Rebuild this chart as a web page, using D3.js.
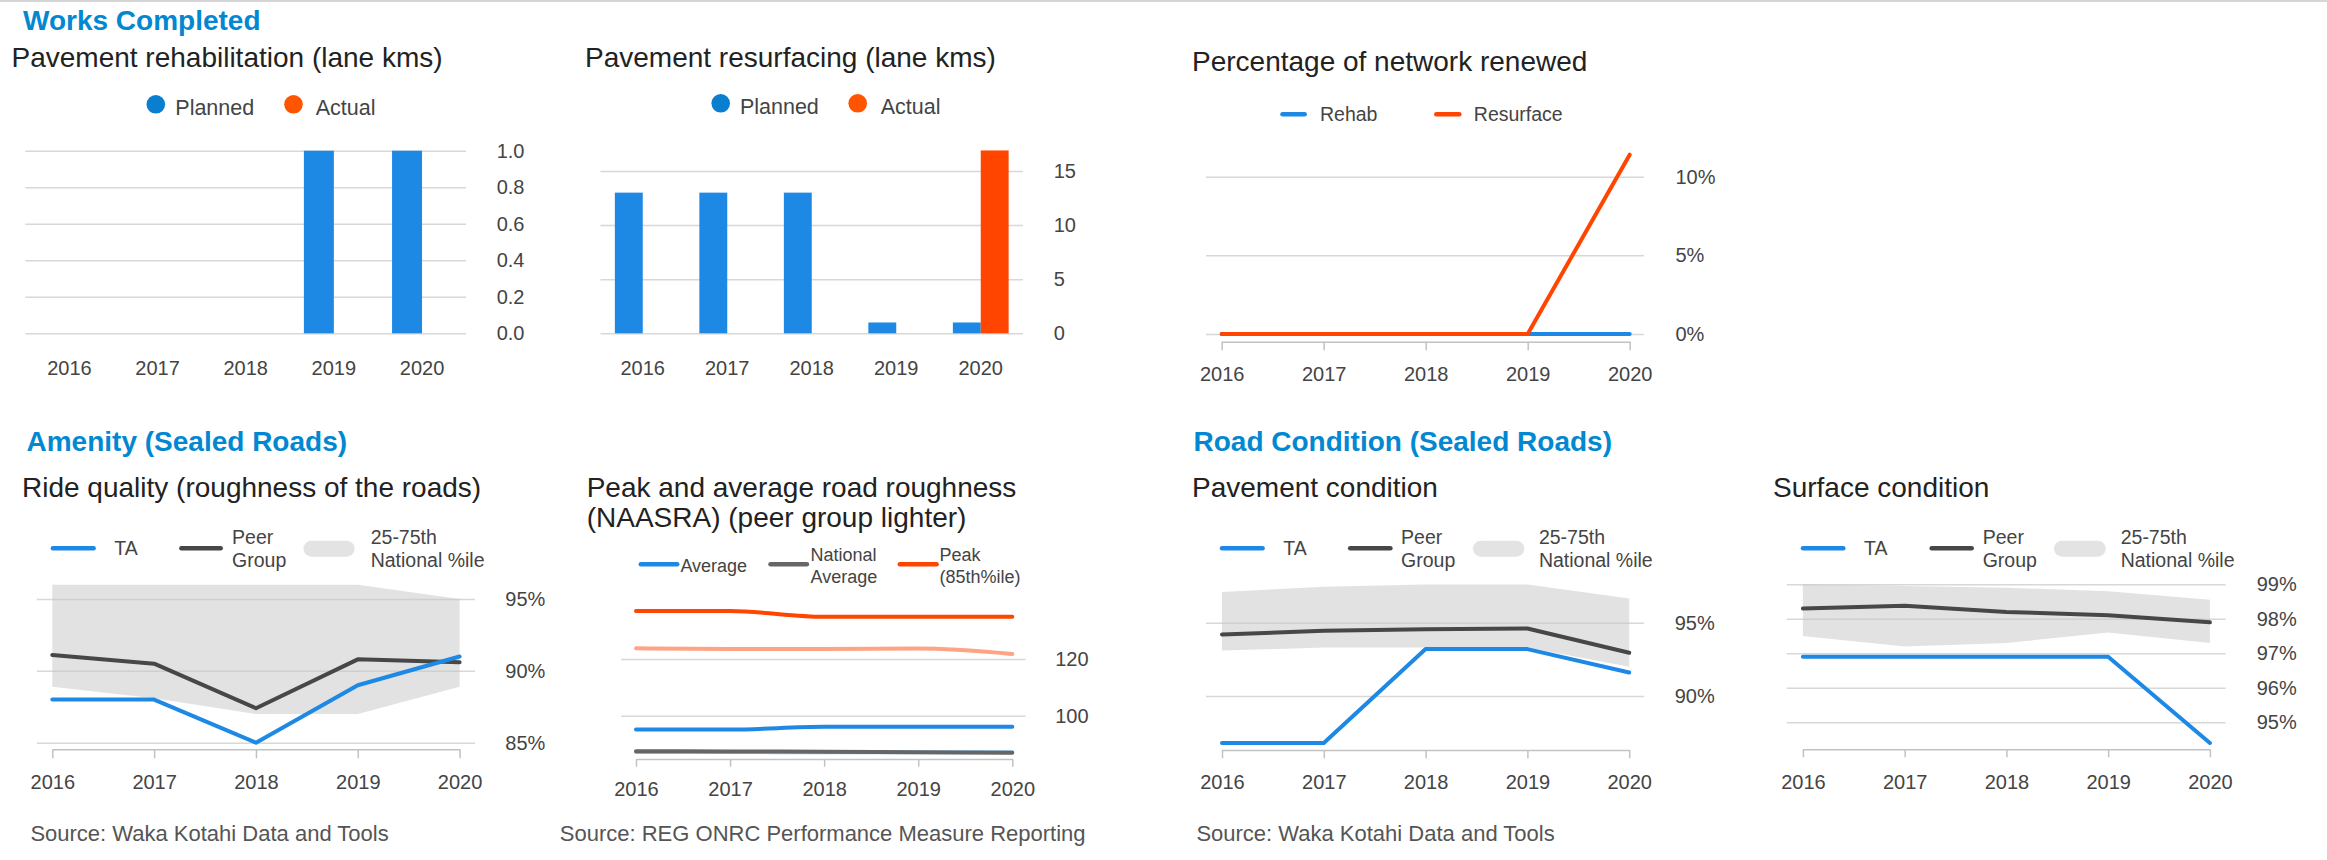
<!DOCTYPE html>
<html><head><meta charset="utf-8">
<script src="https://cdn.jsdelivr.net/npm/d3@7"></script>
<style>
html,body{margin:0;padding:0;background:#fff;}
svg{display:block;font-family:"Liberation Sans",Arial,sans-serif;}
</style></head><body>
<svg id="chart" width="2327" height="860"></svg>
<script>
// ---------------- DATA ----------------
const years = ["2016","2017","2018","2019","2020"];

const rehabPlanned = [0,0,0,1,1];
const rehabActual  = [0,0,0,0,0];
const rehabTicks   = [0,0.2,0.4,0.6,0.8,1.0];

const resurfPlanned = [13,13,13,1,1];
const resurfActual  = [0,0,0,0,16.9];
const resurfTicks   = [0,5,10,15];

const renewRehab     = [0,0,0,0,0];
const renewResurface = [0,0,0,0,11.4];
const renewTicks     = [0,5,10];

const rideTA   = [88,88,85,89,91];
const ridePeer = [91.1,90.5,87.4,90.8,90.6];
const rideP25  = [88.9,88.1,87,87,88.9];
const rideP75  = [96,96,96,96,95];
const rideTicks = [85,90,95];

const roughAvg      = [95.1,95.1,96.1,96.1,96.1];
const roughPeerAvg  = [87.2,87.2,87.1,87.1,87.1];
const roughNatAvg   = [87.5,87.4,87.3,87.1,86.9];
const roughPeerPeak = [123.8,123.5,123.5,123.7,121.8];
const roughPeak     = [136.9,136.9,134.9,134.9,134.9];
const roughTicks    = [100,120];

const pavTA   = [86.8,86.8,93.2,93.2,91.6];
const pavPeer = [94.2,94.45,94.55,94.6,92.95];
const pavP25  = [93.1,93.3,93.3,93.3,92.0];
const pavP75  = [97.1,97.45,97.6,97.6,96.65];
const pavTicks = [90,95];

const surfTA   = [96.9,96.9,96.9,96.9,94.4];
const surfPeer = [98.3,98.38,98.2,98.1,97.9];
const surfP25  = [97.5,97.2,97.3,97.6,97.3];
const surfP75  = [99,98.95,98.9,98.8,98.55];
const surfTicks = [95,96,97,98,99];

// ---------------- STYLE ----------------
const BLUE="#1e88e5", ORANGE="#ff4500", PEER="#474747", NAT="#666666",
      LIGHTORANGE="#ffa385", LIGHTBLUE="#90caf9",
      GRID="#d8d8d8", AXIS="#c2c2c2", LABEL="#444", HEAD="#0288d1", TITLE="#222";
const FONT='"Liberation Sans",Arial,sans-serif';

const svg = d3.select("#chart");
svg.append("rect").attr("x",0).attr("y",0).attr("width",2327).attr("height",2).attr("fill","#d6d6d6");

function text(x,y,s,size,color,weight){
  return svg.append("text").attr("x",x).attr("y",y).text(s)
    .attr("font-size",size).attr("fill",color).attr("font-weight",weight||"normal");
}

function yGrid(g,y,cfg,ticks,fmt){
  g.append("g").attr("transform",`translate(${cfg.gridR},0)`)
   .call(d3.axisRight(y).tickValues(ticks).tickSize(-(cfg.gridR-cfg.gridL))
        .tickPadding(cfg.labelX-cfg.gridR).tickFormat(fmt))
   .call(a=>{
      a.select(".domain").remove();
      a.selectAll(".tick line").attr("stroke",GRID).attr("stroke-width",1.5);
      a.selectAll(".tick text").attr("fill",LABEL).attr("font-size",20).attr("font-family",FONT);
   });
}

function barChart(cfg, planned, actual, ticks, fmt){
  const g = svg.append("g");
  const x0 = d3.scaleBand().domain(years).range([cfg.gridL,cfg.gridR]);
  const gw = x0.bandwidth()*cfg.groupFrac;
  const x1 = d3.scaleBand().domain(["Planned","Actual"]).range([0,gw]);
  const y = d3.scaleLinear().domain(cfg.yDom).range(cfg.yRange);
  yGrid(g,y,cfg,ticks,fmt);
  const series=[["Planned",planned,BLUE],["Actual",actual,ORANGE]];
  series.forEach(([name,arr,col])=>{
    g.append("g").selectAll("rect").data(years.map((yr,i)=>({yr,v:arr[i]}))).join("rect")
     .attr("x",d=>x0(d.yr)+(x0.bandwidth()-gw)/2+x1(name))
     .attr("width",x1.bandwidth())
     .attr("y",d=>y(d.v)).attr("height",d=>y(0)-y(d.v)).attr("fill",col);
  });
  g.append("g").attr("transform",`translate(0,${cfg.yRange[0]})`)
   .call(d3.axisBottom(x0).tickSize(0))
   .call(a=>{
     a.select(".domain").remove();
     a.selectAll(".tick text").attr("y",cfg.yearBase-cfg.yRange[0]).attr("dy",0)
      .attr("fill",LABEL).attr("font-size",20).attr("font-family",FONT);
   });
}

function lineChart(cfg, lines, band, ticks, fmt){
  const g = svg.append("g");
  const x = d3.scalePoint().domain(years).range([cfg.x0,cfg.x1]);
  const y = d3.scaleLinear().domain(cfg.yDom).range(cfg.yRange);
  yGrid(g,y,cfg,ticks,fmt);
  g.append("g").attr("transform",`translate(0,${cfg.axisY})`)
   .call(d3.axisBottom(x).tickSize(cfg.tick).tickSizeOuter(0))
   .call(a=>{
     a.select(".domain").attr("stroke",AXIS).attr("stroke-width",1.5);
     a.selectAll(".tick line").attr("stroke",AXIS).attr("stroke-width",1.5);
     a.selectAll(".tick text").attr("y",cfg.yearBase-cfg.axisY).attr("dy",0)
      .attr("fill",LABEL).attr("font-size",20).attr("font-family",FONT);
   });
  if(band){
    const area=d3.area().x((d,i)=>x(years[i])).y0((d,i)=>y(band[0][i])).y1((d,i)=>y(band[1][i]));
    g.append("path").datum(years).attr("d",area).attr("fill","#c6c6c6").attr("fill-opacity",0.5);
  }
  lines.forEach(([arr,col,curve])=>{
    const line=d3.line().x((d,i)=>x(years[i])).y(d=>y(d)).curve(curve||d3.curveLinear);
    g.append("path").datum(arr).attr("d",line).attr("fill","none").attr("stroke",col)
     .attr("stroke-width",4).attr("stroke-linejoin","round").attr("stroke-linecap","round");
  });
}

function legLine(x0,x1,y,col){
  svg.append("line").attr("x1",x0).attr("x2",x1).attr("y1",y).attr("y2",y)
    .attr("stroke",col).attr("stroke-width",4.5).attr("stroke-linecap","round");
}
function taLegend(o){
  const s=19.5;
  legLine(o.ta[0],o.ta[1],548.3,BLUE); text(o.taT,555,"TA",s,LABEL);
  legLine(o.pe[0],o.pe[1],548.3,PEER); text(o.peT,544,"Peer",s,LABEL); text(o.peT,566.7,"Group",s,LABEL);
  svg.append("rect").attr("x",o.band[0]).attr("y",540.7).attr("width",o.band[1]-o.band[0]).attr("height",16)
     .attr("rx",8).attr("fill","#e3e3e3");
  text(o.bT,544,"25-75th",s,LABEL); text(o.bT,566.7,"National %ile",s,LABEL);
}

// ---------------- HEADINGS & TITLES ----------------
text(23,30,"Works Completed",28,HEAD,"bold");
text(26.5,450.5,"Amenity (Sealed Roads)",28,HEAD,"bold");
text(1193.5,450.5,"Road Condition (Sealed Roads)",28,HEAD,"bold");

text(11.5,67,"Pavement rehabilitation (lane kms)",28,TITLE);
text(585,67,"Pavement resurfacing (lane kms)",28,TITLE);
text(1192,71,"Percentage of network renewed",28,TITLE);
text(22,496.5,"Ride quality (roughness of the roads)",28,TITLE);
text(586.7,496.5,"Peak and average road roughness",28,TITLE);
text(586.7,527.3,"(NAASRA) (peer group lighter)",28,TITLE);
text(1192,496.5,"Pavement condition",28,TITLE);
text(1773,496.5,"Surface condition",28,TITLE);

text(30.4,840.7,"Source: Waka Kotahi Data and Tools",22,"#555");
text(559.8,840.7,"Source: REG ONRC Performance Measure Reporting",22,"#555");
text(1196.4,840.7,"Source: Waka Kotahi Data and Tools",22,"#555");

// ---------------- CHART 1 ----------------
svg.append("circle").attr("cx",155.8).attr("cy",104.3).attr("r",9.3).attr("fill","#0a7fd0");
text(175.3,115,"Planned",21.5,LABEL);
svg.append("circle").attr("cx",293.5).attr("cy",104.3).attr("r",9.3).attr("fill","#ff5500");
text(315.7,115,"Actual",21.5,LABEL);
barChart({gridL:25.3,gridR:466.1,labelX:496.7,yDom:[0,1],yRange:[333.3,150.7],groupFrac:0.68,yearBase:375},
  rehabPlanned, rehabActual, rehabTicks, d3.format(".1f"));

// ---------------- CHART 2 ----------------
svg.append("circle").attr("cx",720.7).attr("cy",103.3).attr("r",9.3).attr("fill","#0a7fd0");
text(739.9,114,"Planned",21.5,LABEL);
svg.append("circle").attr("cx",857.7).attr("cy",103.3).attr("r",9.3).attr("fill","#ff5500");
text(880.7,114,"Actual",21.5,LABEL);
barChart({gridL:600.5,gridR:1023,labelX:1053.7,yDom:[0,15],yRange:[333.3,171],groupFrac:0.66,yearBase:375},
  resurfPlanned, resurfActual, resurfTicks, d3.format("d"));

// ---------------- CHART 3 ----------------
legLine(1282.5,1304.7,114.3,BLUE); text(1320,121,"Rehab",19.5,LABEL);
legLine(1436.3,1459.3,114.3,ORANGE); text(1473.8,121,"Resurface",19.5,LABEL);
lineChart({gridL:1206,gridR:1644,labelX:1675.5,x0:1221.7,x1:1629.7,yDom:[0,10],yRange:[334,176.7],
  axisY:341.7,tick:8.5,yearBase:381},
  [[renewRehab,BLUE],[renewResurface,ORANGE]], null, renewTicks, d=>d+"%");

// ---------------- CHART 4 ----------------
taLegend({ta:[52.9,93.6],taT:114.3,pe:[181.4,220.7],peT:232.1,band:[303.5,354.6],bT:370.7});
lineChart({gridL:36.8,gridR:475,labelX:505.3,x0:52.3,x1:459.6,yDom:[85,95],yRange:[742.7,599],
  axisY:749.3,tick:9,yearBase:789.3},
  [[ridePeer,PEER],[rideTA,BLUE]], [rideP25,rideP75], rideTicks, d=>d+"%");

// ---------------- CHART 5 ----------------
legLine(640.8,677.2,564.3,BLUE); text(680.4,572,"Average",18,LABEL);
legLine(770.5,806.9,564.3,NAT); text(810.5,561,"National",18,LABEL); text(810.5,582.5,"Average",18,LABEL);
legLine(899.8,936.6,564.3,ORANGE); text(939.4,561,"Peak",18,LABEL); text(939.4,582.5,"(85th%ile)",18,LABEL);
lineChart({gridL:621.1,gridR:1025.6,labelX:1055.2,x0:636,x1:1012.3,yDom:[100,120],yRange:[715.7,659],
  axisY:759,tick:7.7,yearBase:795.5},
  [[roughPeerAvg,LIGHTBLUE,d3.curveMonotoneX],[roughNatAvg,NAT,d3.curveMonotoneX],
   [roughPeerPeak,LIGHTORANGE,d3.curveMonotoneX],[roughAvg,BLUE,d3.curveMonotoneX],[roughPeak,ORANGE,d3.curveMonotoneX]],
  null, roughTicks, d3.format("d"));

// ---------------- CHART 6 ----------------
taLegend({ta:[1222,1262.6],taT:1283.2,pe:[1350.2,1390.4],peT:1401.1,band:[1473,1524.3],bT:1538.9});
lineChart({gridL:1206,gridR:1644.1,labelX:1674.7,x0:1222,x1:1629.2,yDom:[90,95],yRange:[696,622.7],
  axisY:750,tick:8.3,yearBase:789.3},
  [[pavPeer,PEER],[pavTA,BLUE]], [pavP25,pavP75], pavTicks, d=>d+"%");

// ---------------- CHART 7 ----------------
taLegend({ta:[1803,1843.3],taT:1864,pe:[1931.7,1971.7],peT:1982.7,band:[2054,2105.7],bT:2120.7});
lineChart({gridL:1786.8,gridR:2225.6,labelX:2256.7,x0:1802.9,x1:2209.9,yDom:[95,99],yRange:[722.3,584.3],
  axisY:749.3,tick:8,yearBase:789.3},
  [[surfPeer,PEER],[surfTA,BLUE]], [surfP25,surfP75], surfTicks, d=>d+"%");
</script>
</body></html>
